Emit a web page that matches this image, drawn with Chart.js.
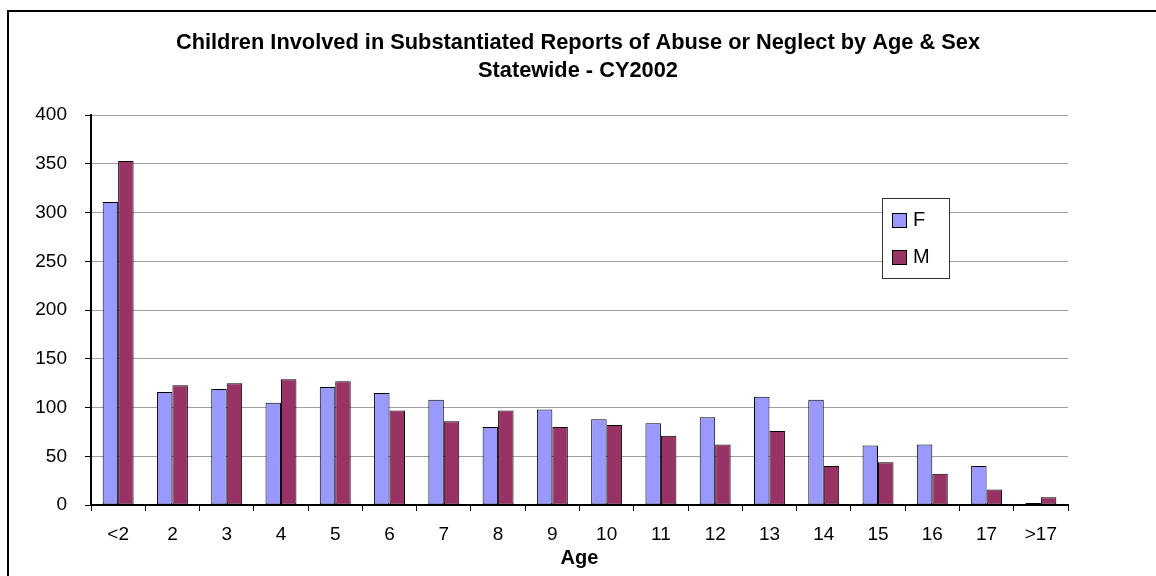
<!DOCTYPE html>
<html lang="en">
<head>
    <meta charset="UTF-8">
    <title>Children Involved in Substantiated Reports of Abuse or Neglect by Age & Sex</title>
    <script src="https://cdn.jsdelivr.net/npm/chart.js"></script>
    <style>
        html, body { margin: 0; padding: 0; background: #fff; }
        #wrap { position: relative; width: 1156px; height: 576px; }
    </style>
</head>
<body>
    <div id="wrap"><canvas id="abuseChart"></canvas></div>
    <script>
        // Данные по возрастам
        const ageLabels = ['<2', '2', '3', '4', '5', '6', '7', '8', '9', '10', '11', '12', '13', '14', '15', '16', '17', '>17'];
        const femaleValues = [311, 116, 119, 105, 121, 115, 108, 80, 98, 88, 84, 90, 111, 108, 61, 62, 40, 2];
        const maleValues = [353, 123, 125, 129, 127, 97, 86, 97, 80, 82, 71, 62, 76, 40, 44, 32, 16, 8];
        const yTicks = [0, 50, 100, 150, 200, 250, 300, 350, 400];

        const FONT = "'Liberation Sans', Arial, sans-serif";
        Chart.defaults.font.family = FONT;
        Chart.defaults.color = '#000';

        // рамка вокруг всей диаграммы
        const frame = {
            id: 'frame',
            beforeDraw(chart) {
                const c = chart.ctx;
                c.save();
                c.fillStyle = '#fff';
                c.fillRect(0, 0, chart.width, chart.height);
                c.strokeStyle = '#000';
                c.lineWidth = 2;
                c.strokeRect(8, 11, 2000, 2000);
                c.restore();
            }
        };

        // легенда внутри области графика
        const boxLegend = {
            id: 'boxLegend',
            afterDraw(chart) {
                const c = chart.ctx;
                const x = 882, y = 198, w = 67, h = 80;
                c.save();
                c.fillStyle = '#fff';
                c.fillRect(x, y, w, h);
                c.strokeStyle = '#333';
                c.lineWidth = 1;
                c.strokeRect(x + 0.5, y + 0.5, w, h);
                c.font = '20px ' + FONT;
                c.textBaseline = 'middle';
                chart.data.datasets.forEach((ds, i) => {
                    const sy = y + 15 + i * 37;
                    c.fillStyle = ds.backgroundColor;
                    c.fillRect(x + 10, sy, 14, 14);
                    c.strokeStyle = '#000';
                    c.strokeRect(x + 10.5, sy + 0.5, 14, 14);
                    c.fillStyle = '#000';
                    c.fillText(ds.label, x + 31, sy + 7);
                });
                c.restore();
            }
        };

        const ctx = document.getElementById('abuseChart').getContext('2d');
        new Chart(ctx, {
            type: 'bar',
            data: {
                labels: ageLabels,
                datasets: [
                    {
                        label: 'F',
                        data: femaleValues,
                        backgroundColor: '#9999FF',
                        borderColor: '#000',
                        borderWidth: 1,
                        borderSkipped: false
                    },
                    {
                        label: 'M',
                        data: maleValues,
                        backgroundColor: '#993366',
                        borderColor: '#000',
                        borderWidth: 1,
                        borderSkipped: false
                    }
                ]
            },
            options: {
                responsive: true,
                maintainAspectRatio: false,
                animation: false,
                layout: { padding: 0 },
                datasets: {
                    bar: { categoryPercentage: 0.57, barPercentage: 1 }
                },
                scales: {
                    y: {
                        min: 0,
                        max: 400,
                        afterBuildTicks: (scale) => { scale.ticks = yTicks.map(v => ({ value: v })); },
                        afterFit: (scale) => { scale.width = 91; },
                        ticks: { font: { size: 19 }, padding: 18, color: '#000' },
                        grid: { color: '#a0a0a0', lineWidth: 1, tickColor: '#000', tickLength: 6 },
                        border: { color: '#000', width: 2 }
                    },
                    // пустая ось справа — только отступ, чтобы заголовок был по центру
                    spacer: {
                        type: 'linear',
                        position: 'right',
                        afterFit: (scale) => { scale.width = 88; },
                        ticks: { display: false },
                        grid: { display: false },
                        border: { display: false }
                    },
                    x: {
                        afterFit: (scale) => { scale.height = 71; },
                        ticks: { font: { size: 19 }, padding: 12, color: '#000', maxRotation: 0, autoSkip: false },
                        grid: {
                            offset: true,
                            color: (c) => c.index === ageLabels.length ? '#a0a0a0' : 'rgba(0,0,0,0)',
                            tickColor: '#000',
                            tickLength: 6
                        },
                        border: { color: '#000', width: 2 },
                        title: {
                            display: true,
                            text: 'Age',
                            font: { size: 20, weight: 'bold' },
                            padding: { top: 0, bottom: 6 }
                        }
                    }
                },
                plugins: {
                    legend: { display: false },
                    tooltip: { enabled: false },
                    title: {
                        display: true,
                        text: ['Children Involved in Substantiated Reports of Abuse or Neglect by Age & Sex', 'Statewide - CY2002'],
                        font: { size: 21.8, weight: 'bold', lineHeight: 1.29 },
                        color: '#000',
                        padding: { top: 29, bottom: 30 }
                    }
                }
            },
            plugins: [frame, boxLegend]
        });
    </script>
</body>
</html>
